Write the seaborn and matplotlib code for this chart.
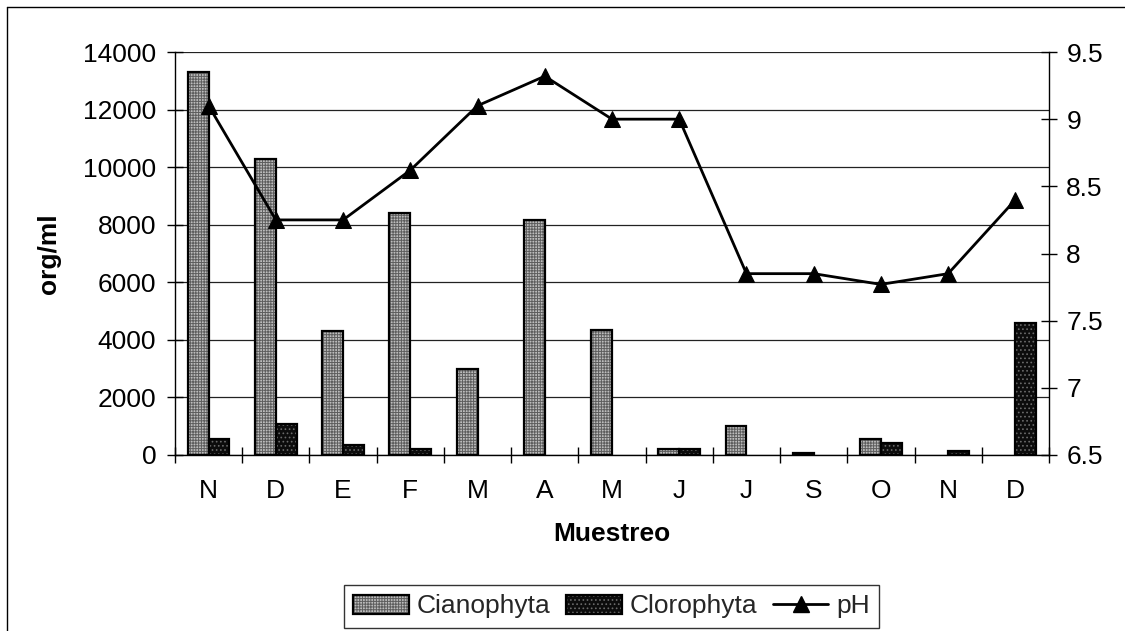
import numpy as np
import pandas as pd
import matplotlib
matplotlib.use("Agg")
import matplotlib.pyplot as plt
import matplotlib.colors as mcolors
from matplotlib.patches import Patch
from matplotlib.lines import Line2D
import seaborn as sns

# Monthly samples (Nov .. Dec of the following year)
meses = ["N", "D", "E", "F", "M", "A", "M", "J", "J", "S", "O", "N", "D"]
cianophyta = [13300, 10300, 4300, 8400, 3000, 8150, 4350, 200, 1000, 60, 570, 0, 0]
clorophyta = [560, 1070, 350, 200, 0, 0, 0, 200, 0, 0, 430, 140, 4600]
ph = [9.1, 8.25, 8.25, 8.62, 9.1, 9.32, 9.0, 9.0, 7.85, 7.85, 7.77, 7.85, 8.4]

grupos = ["Cianophyta", "Clorophyta"]

sns.set_theme(style="white")
plt.rcParams["font.family"] = ["Liberation Sans", "DejaVu Sans"]
plt.rcParams["hatch.linewidth"] = 0.7

FS = 19

n = len(meses)
df = pd.DataFrame({
    "muestra": list(range(n)) * 2,
    "org": cianophyta + clorophyta,
    "grupo": [grupos[0]] * n + [grupos[1]] * n,
})

W, H = 1125, 631
fig = plt.figure(figsize=(W / 100, H / 100), dpi=100, facecolor="white")
ax = fig.add_axes([175 / W, 1 - 455 / H, (1049 - 175) / W, (455 - 52) / H])
ax.set_facecolor("white")

fills = {"Cianophyta": ("#bdbdbd", "++++++", "#5e5e5e"),
         "Clorophyta": ("#0c0c0c", "....", "#6a6a6a")}


def set_hatch(patch, hatch, hcolor):
    patch.set_hatch(hatch)
    if hasattr(patch, "set_hatchcolor"):
        patch.set_hatchcolor(hcolor)
    else:
        patch._hatch_color = mcolors.to_rgba(hcolor)


sns.barplot(data=df, x="muestra", y="org", hue="grupo", hue_order=grupos,
            order=list(range(n)), palette={g: fills[g][0] for g in grupos},
            width=0.62, gap=0, dodge=True, saturation=1, legend=False,
            edgecolor="black", linewidth=1.6, ax=ax)

# Apply the fill patterns per series
for i, p in enumerate(ax.patches):
    g = grupos[0] if i < n else grupos[1]
    p.set_edgecolor("black")
    set_hatch(p, fills[g][1], fills[g][2])
    if p.get_height() == 0:
        p.set_visible(False)

ax.set_xlim(-0.5, n - 0.5)
ax.set_ylim(0, 14000)
ax.set_yticks(np.arange(0, 14001, 2000))
ax.set_yticklabels([f"{int(v)}" for v in np.arange(0, 14001, 2000)])
ax.set_xticks(range(n))
ax.set_xticklabels(meses)
ax.set_xticks(np.arange(-0.5, n, 1.0), minor=True)
ax.tick_params(axis="x", which="major", length=0, pad=17, labelsize=FS, colors="black")
ax.tick_params(axis="x", which="minor", direction="inout", length=11, width=1,
               color="black", bottom=True)
ax.tick_params(axis="y", direction="inout", length=11, width=1, color="black",
               left=True, labelsize=FS, pad=8, labelcolor="black")
ax.yaxis.grid(True, color="#222222", linewidth=0.9)
ax.xaxis.grid(False)
ax.set_axisbelow(True)
for s in ["top", "right"]:
    ax.spines[s].set_visible(False)
for s in ["left", "bottom"]:
    ax.spines[s].set_color("black")
    ax.spines[s].set_linewidth(1.0)

ax.set_xlabel("Muestreo", fontsize=FS, fontweight="bold", labelpad=14, color="black")
ax.set_ylabel("org/ml", fontsize=FS, fontweight="bold", labelpad=16, color="black")

# pH on the secondary axis
ax2 = ax.twinx()
sns.lineplot(x=np.arange(n), y=ph, ax=ax2, color="black", linewidth=2,
             marker="^", markersize=11.5, markeredgecolor="black",
             markerfacecolor="black", legend=False)
ax2.set_ylim(6.5, 9.5)
ax2.set_yticks(np.arange(6.5, 9.51, 0.5))
ax2.set_yticklabels([f"{v:g}" for v in np.arange(6.5, 9.51, 0.5)])
ax2.tick_params(axis="y", direction="inout", length=11, width=1, color="black",
                right=True, labelsize=FS, pad=7, labelcolor="black")
for s in ["top", "left", "bottom"]:
    ax2.spines[s].set_visible(False)
ax2.spines["right"].set_color("black")
ax2.spines["right"].set_linewidth(1.0)
ax2.grid(False)
ax2.set_xlim(-0.5, n - 0.5)

# Legend
h1 = Patch(facecolor=fills["Cianophyta"][0], edgecolor="black", linewidth=1.6)
set_hatch(h1, fills["Cianophyta"][1], fills["Cianophyta"][2])
h2 = Patch(facecolor=fills["Clorophyta"][0], edgecolor="black", linewidth=1.6)
set_hatch(h2, fills["Clorophyta"][1], fills["Clorophyta"][2])
h3 = Line2D([], [], color="black", linewidth=2, marker="^", markersize=11.5)
leg = fig.legend([h1, h2, h3], grupos + ["pH"], loc="center",
                 bbox_to_anchor=(611.5 / W, 1 - 606.5 / H), ncol=3,
                 fontsize=FS, frameon=True, fancybox=False, shadow=False,
                 handlelength=2.1, handleheight=0.75, handletextpad=0.3,
                 columnspacing=0.6, borderpad=0.35, borderaxespad=0)
leg.get_frame().set_edgecolor("black")
leg.get_frame().set_linewidth(1.0)

# Outer chart border
fig.add_artist(Line2D([7 / W, 7 / W], [0, 1 - 7 / H], color="black",
                      linewidth=1.0, transform=fig.transFigure))
fig.add_artist(Line2D([7 / W, 1], [1 - 7 / H, 1 - 7 / H], color="black",
                      linewidth=1.0, transform=fig.transFigure))

fig.savefig("out.png", dpi=100, facecolor="white")
